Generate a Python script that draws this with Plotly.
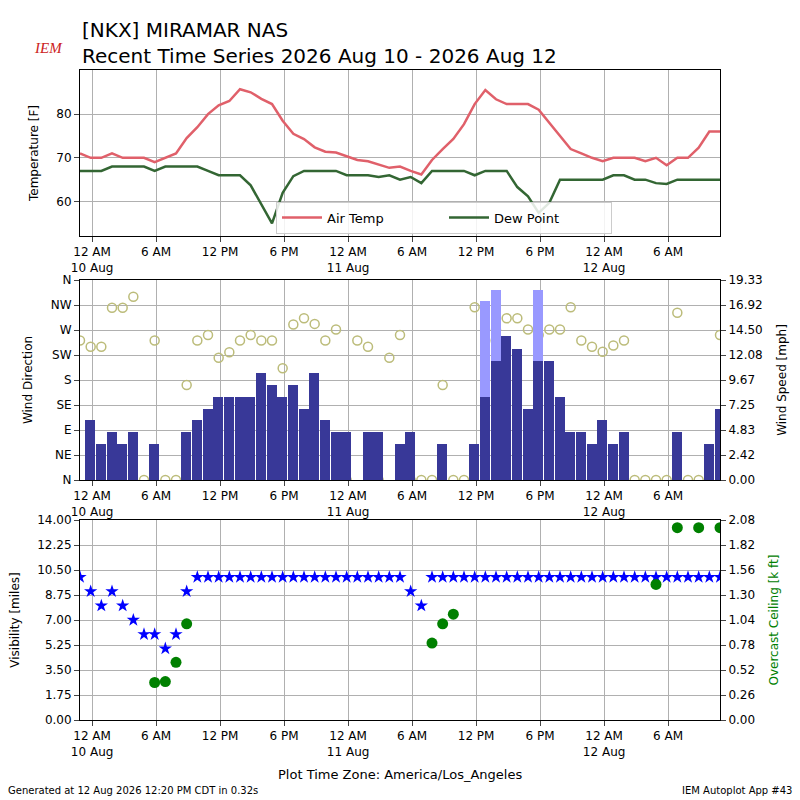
import datetime as dt
import plotly.graph_objects as go

# hourly obs starting 9 Aug 22:52 local
start = dt.datetime(2026, 8, 9, 22, 52)
times = [start + dt.timedelta(hours=k) for k in range(61)]

air_temp = [71, 70, 70, 71, 70, 70, 70, 69, 70, 71, 74.5, 77, 80, 82, 83, 85.7, 85, 83.5, 82.3, 78.5,
            75.5, 74.3, 72.4, 71.4, 71.2, 70.3, 69.5, 69.2, 68.5, 67.7, 68, 67, 66.2, 69.5, 72, 74.3,
            77.7, 82.3, 85.5, 83.4, 82.3, 82.3, 82.3, 81, 78, 75, 72, 71, 70, 69.2, 70, 70,
            70, 69.2, 70, 68.3, 70, 70, 72.3, 76, 76]
dew_point = [67, 67, 67, 68, 68, 68, 68, 67, 68, 68, 68, 68, 67, 66, 66, 66, 63.7, 59.5, 55, 62,
             65.8, 67, 67, 67, 67, 66, 66, 66, 65.6, 66, 65, 65.6, 64.2, 67, 67, 67,
             67, 66, 67, 67, 67, 63.3, 61.2, 57.4, 59.7, 65, 65, 65, 65, 65, 66, 66,
             65, 65, 64.2, 64, 65, 65, 65, 65, 65]

wind_dir = [251, 240, 240, 310, 310, 330, 0, 251, 0, 0, 171, 251, 261, 220, 230, 251, 261, 251, 251, 201,
            280, 291, 281, 251, 271, 0, 251, 240, 0, 220, 261, 0, 0, 0, 171, 0,
            0, 311, 251, 271, 291, 291, 271, 261, 271, 271, 311, 251, 240, 231, 242, 251,
            0, 0, 0, 0, 301, 0, 0, None, 261]
wind_mph = [5.8, 3.45, 4.68, 3.45, 4.68, 0, 3.45, 0, 0, 4.68, 5.8, 6.9, 8.0, 8.0, 8.0, 8.0, 10.35, 9.2, 8.0, 9.2,
            6.9, 10.35, 5.8, 4.68, 4.68, 0, 4.68, 4.68, 0, 3.45, 4.68, 0, 0, 3.45, 0, 0,
            3.45, 8.0, 11.5, 13.9, 12.7, 6.9, 11.5, 11.5, 8.0, 4.68, 4.68, 3.45, 5.8, 3.45, 4.68, 0,
            0, 0, 0, 4.68, 0, 0, 3.45, 6.9, 0]
gust_mph = [None] * 37 + [17.3, 18.4, None, None, None, 18.4] + [None] * 18

visibility = [10, 9, 8, 9, 8, 7, 6, 6, 5, 6, 9, 10, 10, 10, 10, 10, 10, 10, 10, 10,
              10, 10, 10, 10, 10, 10, 10, 10, 10, 10, 10, 9, 8, 10, 10, 10,
              10, 10, 10, 10, 10, 10, 10, 10, 10, 10, 10, 10, 10, 10, 10, 10,
              10, 10, 10, 10, 10, 10, 10, 10, 10]
ceiling = [None] * 61
for k, v in [(7, 0.39), (8, 0.4), (9, 0.6), (10, 1.0), (33, 0.8), (34, 1.0), (35, 1.1),
             (54, 1.41), (56, 2.0), (58, 2.0), (60, 2.0)]:
    ceiling[k] = v

tick_hours = list(range(0, 60, 6))
tick_labels = ["12 AM<br>10 Aug", "6 AM", "12 PM", "6 PM", "12 AM<br>11 Aug", "6 AM",
               "12 PM", "6 PM", "12 AM<br>12 Aug", "6 AM"]
dir_labels = ["N", "NE", "E", "SE", "S", "SW", "W", "NW", "N"]

tick_vals = [dt.datetime(2026, 8, 10) + dt.timedelta(hours=h) for h in tick_hours]
xrange = [start, start + dt.timedelta(hours=60)]
font = "DejaVu Sans"

fig = go.Figure()
fig.add_trace(go.Scatter(x=times, y=air_temp, name="Air Temp", mode="lines",
                         line=dict(color="#e0606a", width=2.5), xaxis="x", yaxis="y"))
fig.add_trace(go.Scatter(x=times, y=dew_point, name="Dew Point", mode="lines",
                         line=dict(color="#336633", width=2.5), xaxis="x", yaxis="y"))

bw = 3600000 * 0.95
fig.add_trace(go.Bar(x=times, y=gust_mph, marker=dict(color="#9999ff", line_width=0),
                     width=bw, offset=1800000, showlegend=False, xaxis="x2", yaxis="y3"))
fig.add_trace(go.Bar(x=times, y=wind_mph, marker=dict(color="#383898", line_width=0),
                     width=bw, offset=1800000, showlegend=False, xaxis="x2", yaxis="y3"))
fig.add_trace(go.Scatter(x=times, y=wind_dir, mode="markers", showlegend=False,
                         marker=dict(symbol="circle-open", size=9, color="#bcbc7a", line_width=1.5),
                         xaxis="x2", yaxis="y2"))

fig.add_trace(go.Scatter(x=times, y=visibility, mode="markers", showlegend=False,
                         marker=dict(symbol="star", size=10, color="blue"), xaxis="x3", yaxis="y4"))
fig.add_trace(go.Scatter(x=times, y=ceiling, mode="markers", showlegend=False,
                         marker=dict(symbol="circle", size=11, color="green"), xaxis="x3", yaxis="y5"))

xa = dict(type="date", range=xrange, tickvals=tick_vals, ticktext=tick_labels, showgrid=True,
          gridcolor="#b0b0b0", showline=True, linecolor="black", mirror=True, ticks="outside",
          tickfont=dict(size=12), domain=[0.1, 0.9], automargin=False)
ya = dict(showgrid=True, gridcolor="#b0b0b0", showline=True, linecolor="black", mirror=True,
          ticks="outside", zeroline=False, tickfont=dict(size=12), title_font=dict(size=12),
          automargin=False)

spd_max = 19.333
spd_ticks = [spd_max * i / 8 for i in range(9)]
cig_ticks = [2.08 * i / 8 for i in range(9)]
vis_ticks = [1.75 * i for i in range(9)]

fig.update_layout(
    width=800, height=800, margin=dict(l=0, r=0, t=0, b=0),
    plot_bgcolor="white", paper_bgcolor="white", font=dict(family=font, color="black"),
    barmode="overlay", bargap=0,
    xaxis=dict(xa, anchor="y"),
    xaxis2=dict(xa, anchor="y2"),
    xaxis3=dict(xa, anchor="y4"),
    yaxis=dict(ya, domain=[0.705, 0.9125], range=[52.1, 90.1], tickvals=[60, 70, 80],
               title_text="Temperature [F]"),
    yaxis2=dict(ya, domain=[0.4, 0.65], range=[0, 360], tickvals=list(range(0, 361, 45)),
                ticktext=dir_labels, title_text="Wind Direction"),
    yaxis3=dict(ya, overlaying="y2", side="right", range=[0, spd_max], tickvals=spd_ticks,
                ticktext=["%.2f" % v for v in spd_ticks], showgrid=False, anchor="x2",
                title_text="Wind Speed [mph]"),
    yaxis4=dict(ya, domain=[0.1, 0.35], range=[0, 14], tickvals=vis_ticks,
                ticktext=["%.2f" % v for v in vis_ticks], title_text="Visibility [miles]"),
    yaxis5=dict(ya, overlaying="y4", side="right", range=[0, 2.08], tickvals=cig_ticks,
                ticktext=["%.2f" % v for v in cig_ticks], showgrid=False, anchor="x3",
                title_text="Overcast Ceiling [k ft]", title_font=dict(size=12, color="green")),
    legend=dict(orientation="h", x=0.345, y=0.708, xanchor="left", yanchor="bottom",
                bordercolor="#cccccc", borderwidth=1, bgcolor="rgba(255,255,255,0.85)",
                font=dict(size=13), itemwidth=40, entrywidth=112),
)
# reorder so direction circles are drawn above bars
fig.data[2].update(yaxis="y3"); fig.data[3].update(yaxis="y3"); fig.data[4].update(yaxis="y2")

ann = [
    dict(text="[NKX] MIRAMAR NAS", x=80 / 800, y=1 - 30 / 800, size=20, xanchor="left"),
    dict(text="Recent Time Series 2026 Aug 10 - 2026 Aug 12", x=80 / 800, y=1 - 56 / 800, size=20, xanchor="left"),
    dict(text="Plot Time Zone: America/Los_Angeles", x=0.5, y=1 - 774 / 800, size=13, xanchor="center"),
    dict(text="Generated at 12 Aug 2026 12:20 PM CDT in 0.32s", x=0.008, y=1 - 790 / 800, size=10, xanchor="left"),
    dict(text="IEM Autoplot App #43", x=0.992, y=1 - 790 / 800, size=10, xanchor="right"),
]
for a in ann:
    fig.add_annotation(text=a["text"], x=a["x"], y=a["y"], xref="paper", yref="paper",
                       xanchor=a["xanchor"], yanchor="middle", showarrow=False,
                       font=dict(size=a["size"], family=font, color="black"))
fig.add_annotation(text="<i>IEM</i>", x=32 / 800, y=1 - 38 / 800, xref="paper", yref="paper",
                   showarrow=False, font=dict(size=15, family="Liberation Serif", color="#cc2222"))

fig.write_html("out.html", config={"displayModeBar": False},
               post_script="document.body.style.margin='0';document.body.style.overflow='hidden';")
